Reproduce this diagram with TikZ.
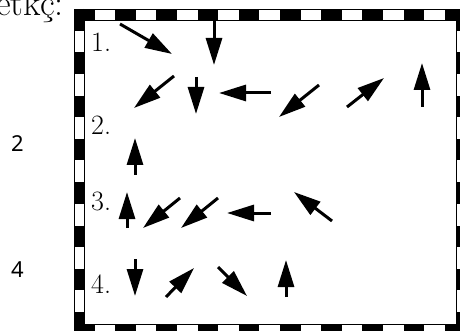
\documentclass[tikz,border=0pt]{standalone}
\usepackage{fontspec}
\usepackage{tikz}
\usetikzlibrary{arrows.meta}
\newfontfamily\sidefont{Noto Sans}
\tikzstyle{vecarrow}=[line width=3pt,-{Triangle[length=27pt,width=16pt]}]
\tikzstyle{rowlabel}=[inner sep=0pt,anchor=base west,font=\fontsize{28}{33}\selectfont]
\tikzstyle{sidenum}=[inner sep=0pt,anchor=base west,font=\sidefont\fontsize{22}{26}\selectfont]
\tikzstyle{hborder}=[line width=11pt,dash pattern=on 20.6pt off 20.6pt]
\tikzstyle{vborder}=[line width=10pt,dash pattern=on 21.6pt off 21.7pt]

\begin{document}
\begin{tikzpicture}[x=1pt,y=-1pt]

\useasboundingbox (0,0) rectangle (460,331);
\clip (0,0) rectangle (460,331);

\node at (64,16) [inner sep=0pt,anchor=base east,font=\fontsize{36}{42}\selectfont] (TITLE) {etkç:};

% frame
\draw[hborder] (74,14.5) -- (470,14.5);
\draw[hborder] (74,329) -- (470,329);
\draw[vborder] (79,9) -- (79,340);
\draw[vborder] (461,9) -- (461,340);
\draw[line width=0.7pt] (84,20) rectangle (456,324);
\draw[line width=0.7pt] (74,9) rectangle (466,334);

\node[rowlabel] (L1) at (91,52){1.};
\node[rowlabel] (L2) at (91,135){2.};
\node[rowlabel] (L3) at (91,210){3.};
\node[rowlabel] (L4) at (91,293){4.};

\node[sidenum] (N2) at (11,152){2};
\node[sidenum] (N4) at (11,277){4};

\path

(120,24) edge [vecarrow] (172,54)
(214,20) edge [vecarrow] (214,65)
(174,76) edge [vecarrow] (134,108)
(196,77) edge [vecarrow] (196,114)
(271,93) edge [vecarrow] (219,93)
(319,85) edge [vecarrow] (279,117)
(347,107) edge [vecarrow] (384,78)
(422,107) edge [vecarrow] (422,63)

(135,175) edge [vecarrow] (135,138)

(127,228) edge [vecarrow] (127,192)
(180,198) edge [vecarrow] (143,228)
(218,198) edge [vecarrow] (181,228)
(271,213) edge [vecarrow] (227,213)
(332,221) edge [vecarrow] (294,192)

(135,259) edge [vecarrow] (135,296)
(166,297) edge [vecarrow] (194,268)
(218,267) edge [vecarrow] (247,296)
(286,297) edge [vecarrow] (286,260);

\end{tikzpicture}
\end{document}
